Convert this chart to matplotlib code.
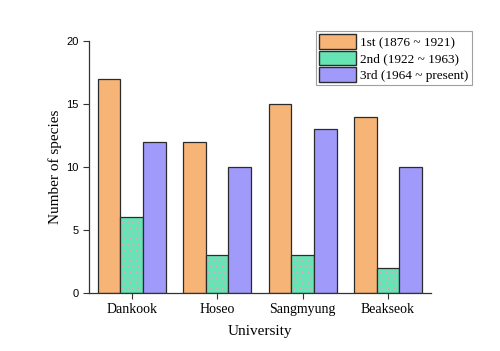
import numpy as np
import matplotlib.pyplot as plt
from matplotlib.patches import Patch

universities = ['Dankook', 'Hoseo', 'Sangmyung', 'Beakseok']
first = [17, 12, 15, 14]
second = [6, 3, 3, 2]
third = [12, 10, 13, 10]
labels = ['1st (1876 ~ 1921)', '2nd (1922 ~ 1963)', '3rd (1964 ~ present)']

c_orange = '#F6B476'
c_green = '#66E4B4'
c_purple = '#A09BFA'

fig = plt.figure(figsize=(5, 3.51), dpi=100)
ax = fig.add_axes([89 / 500, 1 - 293 / 351, (430.7 - 89) / 500, (293 - 41) / 351])

x = np.arange(len(universities))
w = 0.265
edge = '#2b2b2b'

ax.bar(x - w, first, w, color=c_orange, edgecolor=edge, linewidth=0.9)
# green bars with pink dot hatch, then outline on top
plt.rcParams['hatch.linewidth'] = 0.6
ax.bar(x, second, w, color=c_green, edgecolor='#e8a0c8', linewidth=0, hatch='...')
ax.bar(x, second, w, color='none', edgecolor=edge, linewidth=0.9)
ax.bar(x + w, third, w, color=c_purple, edgecolor=edge, linewidth=0.9)

ax.set_xlim(-0.5, 3.5)
ax.set_ylim(0, 20)
ax.set_yticks([0, 5, 10, 15, 20])
ax.set_xticks(x)
ax.set_xticklabels(universities, fontfamily='Liberation Serif', fontsize=10)
for t in ax.get_yticklabels():
    t.set_fontfamily('Liberation Sans')
    t.set_fontsize(8)
ax.tick_params(direction='out', length=4, width=0.8, color='#333333')
ax.spines['top'].set_visible(False)
ax.spines['right'].set_visible(False)
for s in ['left', 'bottom']:
    ax.spines[s].set_linewidth(0.9)
    ax.spines[s].set_color('#333333')

ax.set_xlabel('University', fontfamily='Liberation Serif', fontsize=11, labelpad=6)
ax.set_ylabel('Number of species', fontfamily='Liberation Serif', fontsize=11, labelpad=3)

handles = [Patch(facecolor=c_orange, edgecolor=edge),
           Patch(facecolor=c_green, edgecolor=edge),
           Patch(facecolor=c_purple, edgecolor=edge)]
leg = fig.legend(handles, labels, loc='upper left', bbox_to_anchor=(316 / 500, 1 - 31 / 351),
                 prop={'family': 'Liberation Serif', 'size': 9.5}, frameon=True, fancybox=False,
                 borderpad=0.25, handlelength=2.8, handleheight=1.3, handletextpad=0.3,
                 labelspacing=0.15, borderaxespad=0)
leg.get_frame().set_edgecolor('#888888')
leg.get_frame().set_linewidth(0.8)

fig.savefig('out.png', dpi=100)
